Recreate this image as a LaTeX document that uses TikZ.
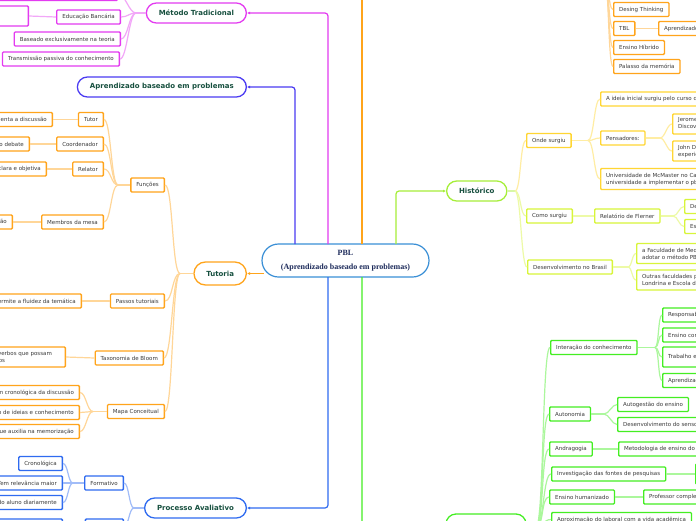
\documentclass[tikz,border=0pt]{standalone}
\usepackage{fontspec}
\setmainfont{DejaVu Sans}
\newfontfamily\pblserif{Liberation Serif}
\usetikzlibrary{shapes.misc,arrows.meta,calc}
\definecolor{cMag}{HTML}{E33BF0}
\definecolor{cPur}{HTML}{4B3BF2}
\definecolor{cOra}{HTML}{FFA41B}
\definecolor{cBlu}{HTML}{2F6BF0}
\definecolor{cHis}{HTML}{A6EE3A}
\definecolor{cYel}{HTML}{FFD633}
\definecolor{cLim}{HTML}{D8F53A}
\definecolor{cGrn}{HTML}{44EE22}
\definecolor{cCen}{HTML}{3A8FD6}
\definecolor{cMainTxt}{HTML}{17503F}
\definecolor{cTxt}{HTML}{3A3A3A}
\definecolor{cCenTxt}{HTML}{1C2A5A}
\tikzset{
  mainnode/.style={rounded rectangle, draw=#1, line width=1.3pt, fill=white, text=cMainTxt,
    font=\bfseries\fontsize{7}{8}\selectfont, minimum height=20pt, inner xsep=12pt, inner ysep=0pt},
  box/.style={rectangle, rounded corners=1pt, draw=#1, line width=1.3pt, fill=white, text=cTxt,
    font=\fontsize{5.5}{7}\selectfont, minimum height=14pt, inner xsep=5.5pt, inner ysep=1.5pt},
  conn/.style={line width=1.2pt, draw=#1!45},
  mainconn/.style={line width=1.2pt, draw=#1, rounded corners=3pt, -{Latex[length=3pt,width=3pt]}},
  plainconn/.style={line width=1.2pt, draw=#1},
}
\newcommand\brL[4][7]{\draw[conn=#2] (#3) .. controls ($(#3)+(-#1,0)$) and ($(#4)+(#1,0)$) .. (#4);}
\newcommand\brR[4][7]{\draw[conn=#2] (#3) .. controls ($(#3)+(#1,0)$) and ($(#4)+(-#1,0)$) .. (#4);}
\begin{document}
\begin{tikzpicture}[x=1pt,y=-1pt]
\useasboundingbox (0,0) rectangle (696,520);
\clip (0,0) rectangle (696,520);
\fill[white] (0,0) rectangle (696,520);

% ---------- centre ----------
\node[rounded rectangle, draw=cCen, line width=1.2pt, fill=white, minimum width=167pt, minimum height=33pt,
  inner sep=0pt, align=center, font=\pblserif\bfseries\fontsize{8}{13.5}\selectfont, text=cCenTxt]
  (pbl) at (345.5,260.5) {PBL\\(Aprendizado baseado em problemas)};

% ---------- main nodes ----------
\node[mainnode=cMag, anchor=east] (mt) at (247,13) {Método Tradicional};
\node[mainnode=cPur, anchor=east] (abp) at (247,87) {Aprendizado baseado em problemas};
\node[mainnode=cOra, anchor=east, minimum height=23pt] (tut) at (247,273.5) {Tutoria};
\node[mainnode=cBlu, anchor=east] (pa) at (247,508) {Processo Avaliativo};
\node[mainnode=cHis, anchor=west] (hist) at (446,191) {Histórico};
\node[rectangle, rounded corners=10pt, draw=cGrn, line width=1.3pt, fill=white, minimum width=80pt, minimum height=22pt] (gm) at (486,525) {};

% ---------- main connectors ----------
\coordinate (cm) at (328,244);
\coordinate (cp) at (295,244);
\coordinate (co) at (362,244);
\coordinate (cot) at (362,-40);
\coordinate (ch) at (396,244);
\coordinate (ct) at (264,273.5);
\coordinate (cb) at (328,277);
\coordinate (cg) at (362,277);
\draw[mainconn=cMag] (cm) |- (mt.east);
\draw[mainconn=cPur] (cp) |- (abp.east);
\draw[plainconn=cOra] (co) -- (cot);
\draw[mainconn=cHis] (ch) |- (hist.west);
\draw[mainconn=cOra] (ct) -- (tut.east);
\draw[mainconn=cBlu] (cb) |- (pa.east);
\draw[mainconn=cGrn] (cg) |- (gm.west);

% ---------- Método Tradicional ----------
\node[box=cMag, anchor=east, minimum width=125pt] (mt0) at (118,-6.5) {};
\node[box=cMag, anchor=east] (eb) at (121,17) {Educação Bancária};
\node[box=cMag, anchor=east, minimum width=60pt, minimum height=20pt] (eb1) at (29,16) {};
\node[box=cMag, anchor=east] (be) at (121,39) {Baseado exclusivamente na teoria};
\node[box=cMag, anchor=east] (tp) at (120,59) {Transmissão passiva do conhecimento};
\coordinate (jmt) at (136,13);
\draw[conn=cMag] (mt.west) -- (jmt);
\brL{cMag}{jmt}{mt0.east}
\brL{cMag}{jmt}{eb.east}
\brL{cMag}{jmt}{be.east}
\brL{cMag}{jmt}{tp.east}
\draw[conn=cMag] (eb.west) -- (eb1.east);

% ---------- Tutoria ----------
\node[box=cOra, anchor=east] (fun) at (165,185) {Funções};
\node[box=cOra, anchor=east] (tutor) at (104,119.5) {Tutor};
\node[box=cOra, anchor=east] (tutor1) at (53,119.5) {Orienta a discussão};
\node[box=cOra, anchor=east] (coord) at (104,144) {Coordenador};
\node[box=cOra, anchor=east] (coord1) at (30,144) {Mediador do debate};
\node[box=cOra, anchor=east] (rel) at (104,169) {Relator};
\node[box=cOra, anchor=east] (rel1) at (47,169) {De forma clara e objetiva};
\node[box=cOra, anchor=east] (mem) at (104,222) {Membros da mesa};
\node[box=cOra, anchor=east] (mem1) at (13,222) {Participação na discussão};
\node[box=cOra, anchor=east] (pt) at (165,301) {Passos tutoriais};
\node[box=cOra, anchor=east] (pt1) at (82,301) {Permite a fluidez da temática};
\node[box=cOra, anchor=east] (tax) at (164,358) {Taxonomia de Bloom};
\node[box=cOra, anchor=east, align=left, minimum height=20pt] (tax1) at (66,357) {Utilização de verbos que possam\hspace*{8pt}\\ser mensurados};
\node[box=cOra, anchor=east] (mapa) at (165,411.5) {Mapa Conceitual};
\node[box=cOra, anchor=east] (mc1) at (80,392.5) {Ordem cronológica da discussão};
\node[box=cOra, anchor=east] (mc2) at (80,412.5) {Organização de ideias e conhecimento};
\node[box=cOra, anchor=east] (mc3) at (80,431.5) {Que auxilia na memorização};
\coordinate (jtut) at (180,273.5);
\coordinate (jfun) at (118,185);
\coordinate (jmc) at (93,411.5);
\draw[conn=cOra] (tut.west) -- (jtut);
\brL[8]{cOra}{jtut}{fun.east}
\brL[8]{cOra}{jtut}{pt.east}
\brL[8]{cOra}{jtut}{tax.east}
\brL[8]{cOra}{jtut}{mapa.east}
\draw[conn=cOra] (fun.west) -- (jfun);
\brL{cOra}{jfun}{tutor.east}
\brL{cOra}{jfun}{coord.east}
\brL{cOra}{jfun}{rel.east}
\brL{cOra}{jfun}{mem.east}
\draw[conn=cOra] (tutor.west) -- (tutor1.east);
\draw[conn=cOra] (coord.west) -- (coord1.east);
\draw[conn=cOra] (rel.west) -- (rel1.east);
\draw[conn=cOra] (mem.west) -- (mem1.east);
\draw[conn=cOra] (pt.west) -- (pt1.east);
\draw[conn=cOra] (tax.west) -- (tax1.east);
\draw[conn=cOra] (mapa.west) -- (jmc);
\brL[6]{cOra}{jmc}{mc1.east}
\brL[6]{cOra}{jmc}{mc2.east}
\brL[6]{cOra}{jmc}{mc3.east}

% ---------- Processo Avaliativo ----------
\node[box=cBlu, anchor=east] (form) at (124,483) {Formativo};
\node[box=cBlu, anchor=east] (cro) at (63,463.5) {Cronológica};
\node[box=cBlu, anchor=east] (trm) at (63,483) {Tem relevância maior};
\node[box=cBlu, anchor=east] (dia) at (63,502.5) {Avaliação do aluno diariamente};
\node[box=cBlu, anchor=east, minimum width=38pt] (som) at (124,526) {};
\node[box=cBlu, anchor=east, minimum width=80pt] (som1) at (63,526) {};
\coordinate (jpa) at (134,508);
\coordinate (jform) at (73,483);
\draw[conn=cBlu] (pa.west) -- (jpa);
\brL[5]{cBlu}{jpa}{form.east}
\brL[5]{cBlu}{jpa}{som.east}
\draw[conn=cBlu] (form.west) -- (jform);
\brL[5]{cBlu}{jform}{cro.east}
\brL[5]{cBlu}{jform}{trm.east}
\brL[5]{cBlu}{jform}{dia.east}
\draw[conn=cBlu] (som.west) -- (som1.east);

% ---------- top right (orange) ----------
\node[box=cOra, anchor=west] (dt) at (613,9.5) {Desing Thinking};
\node[box=cOra, anchor=west] (tbl) at (613,28.5) {TBL};
\node[box=cOra, anchor=west] (tbl1) at (658,28.5) {Aprendizado baseado em equipes};
\node[box=cOra, anchor=west] (eh) at (613,47.5) {Ensino Híbrido};
\node[box=cOra, anchor=west] (pm) at (613,66.5) {Palasso da memória};
\coordinate (jtop) at (604,-25);
\brR[5]{cOra}{jtop}{dt.west}
\brR[5]{cOra}{jtop}{tbl.west}
\brR[5]{cOra}{jtop}{eh.west}
\brR[5]{cOra}{jtop}{pm.west}
\draw[conn=cOra] (tbl.east) -- (tbl1.west);

% ---------- Histórico ----------
\node[box=cYel, anchor=west] (onde) at (526,140.5) {Onde surgiu};
\node[box=cYel, anchor=west] (idei) at (600,99) {A ideia inicial surgiu pelo curso de Medicina};
\node[box=cYel, anchor=west] (pens) at (600,138) {Pensadores:};
\node[box=cYel, anchor=west, align=left, minimum height=20pt] (jer) at (672,124) {Jerome Bruner -\\Discovery Learning};
\node[box=cYel, anchor=west, align=left, minimum height=20pt] (john) at (672,151) {John Dewey -\\experiência};
\node[box=cYel, anchor=west, align=left, minimum height=21pt] (mcm) at (600,179) {Universidade de McMaster no Canadá, a primeira\\universidade a implementar o pbl};
\node[box=cLim, anchor=west] (como) at (526,216) {Como surgiu};
\node[box=cLim, anchor=west] (rf) at (594,216) {Relatório de Flerner};
\node[box=cLim, anchor=west] (de) at (684,206.5) {Deficiências};
\node[box=cLim, anchor=west] (es) at (684,226.5) {Escolas};
\node[box=cLim, anchor=west] (dev) at (527,267) {Desenvolvimento no Brasil};
\node[box=cLim, anchor=west, align=left, minimum height=20pt] (fac) at (636,253.5) {a Faculdade de Medicina de Marília foi a primeira a\\adotar o método PBL};
\node[box=cLim, anchor=west, align=left, minimum height=20pt] (outr) at (636,280) {Outras faculdades pioneiras:\\Londrina e Escola de Saúde Pública};
\coordinate (jhist) at (515,191);
\coordinate (jonde) at (588,140.5);
\coordinate (jpens) at (660,138);
\coordinate (jrf) at (673,216);
\coordinate (jdev) at (628,267);
\draw[conn=cHis] (hist.east) -- (jhist);
\brR[6]{cYel}{jhist}{onde.west}
\brR[6]{cLim}{jhist}{como.west}
\brR[6]{cLim}{jhist}{dev.west}
\draw[conn=cYel] (onde.east) -- (jonde);
\brR[6]{cYel}{jonde}{idei.west}
\brR[6]{cYel}{jonde}{pens.west}
\brR[6]{cYel}{jonde}{mcm.west}
\draw[conn=cYel] (pens.east) -- (jpens);
\brR[5]{cYel}{jpens}{jer.west}
\brR[5]{cYel}{jpens}{john.west}
\draw[conn=cLim] (como.east) -- (rf.west);
\draw[conn=cLim] (rf.east) -- (jrf);
\brR[5]{cLim}{jrf}{de.west}
\brR[5]{cLim}{jrf}{es.west}
\draw[conn=cLim] (dev.east) -- (jdev);
\brR[4]{cLim}{jdev}{fac.west}
\brR[4]{cLim}{jdev}{outr.west}

% ---------- green ----------
\node[box=cGrn, anchor=west] (inter) at (550,347.5) {Interação do conhecimento};
\node[box=cGrn, anchor=west] (resp) at (662,315) {Responsabilidade};
\node[box=cGrn, anchor=west] (ensc) at (662,335) {Ensino contextualizado};
\node[box=cGrn, anchor=west, minimum height=20pt] (trab) at (662,357) {Trabalho em equipe};
\node[box=cGrn, anchor=west] (aprz) at (662,380.5) {Aprendizado ativo};
\node[box=cGrn, anchor=west] (auto) at (549,414) {Autonomia};
\node[box=cGrn, anchor=west] (autog) at (617,404.5) {Autogestão do ensino};
\node[box=cGrn, anchor=west] (dsc) at (617,424.5) {Desenvolvimento do senso crítico};
\node[box=cGrn, anchor=west] (andr) at (549,449) {Andragogia};
\node[box=cGrn, anchor=west] (meto) at (618,449) {Metodologia de ensino do adulto};
\node[box=cGrn, anchor=west] (inv) at (551,474) {Investigação das fontes de pesquisas};
\node[box=cGrn, anchor=west, minimum height=20pt, minimum width=40pt] (invc) at (695,474) {};
\node[box=cGrn, anchor=west] (hum) at (549,497) {Ensino humanizado};
\node[box=cGrn, anchor=west] (prof) at (643,497) {Professor completo};
\node[box=cGrn, anchor=west] (apx) at (551,519.5) {Aproximação do laboral com a vida acadêmica};
\coordinate (jg) at (536,527);
\coordinate (jint) at (655,347.5);
\coordinate (jaut) at (604,414);
\draw[conn=cGrn] (gm.east) -- (jg);
\brR[8]{cGrn}{jg}{inter.west}
\brR[8]{cGrn}{jg}{auto.west}
\brR[8]{cGrn}{jg}{andr.west}
\brR[8]{cGrn}{jg}{inv.west}
\brR[8]{cGrn}{jg}{hum.west}
\brR[8]{cGrn}{jg}{apx.west}
\draw[conn=cGrn] (inter.east) -- (jint);
\brR[4]{cGrn}{jint}{resp.west}
\brR[4]{cGrn}{jint}{ensc.west}
\brR[4]{cGrn}{jint}{trab.west}
\brR[4]{cGrn}{jint}{aprz.west}
\draw[conn=cGrn] (auto.east) -- (jaut);
\brR[5]{cGrn}{jaut}{autog.west}
\brR[5]{cGrn}{jaut}{dsc.west}
\draw[conn=cGrn] (andr.east) -- (meto.west);
\draw[conn=cGrn] (inv.east) -- (invc.west);
\draw[conn=cGrn] (hum.east) -- (prof.west);
\end{tikzpicture}
\end{document}
